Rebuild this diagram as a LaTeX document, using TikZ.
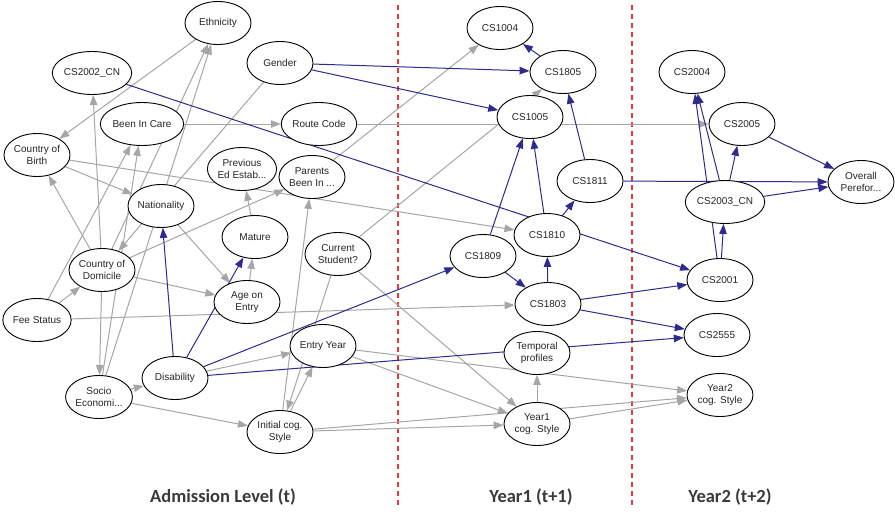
\documentclass[tikz,border=0pt]{standalone}
\usepackage{fontspec}
\setmainfont{Liberation Sans}
\newfontfamily\labfont{Carlito}
\usetikzlibrary{arrows.meta,shapes.geometric,backgrounds}
\definecolor{edgegray}{HTML}{A6A6A6}
\definecolor{edgeblue}{HTML}{2E2A8E}
\definecolor{dashred}{HTML}{E8393A}
\definecolor{labgray}{HTML}{3A3A3A}
\begin{document}
\begin{tikzpicture}[x=1pt,y=-1pt,
  nd/.style={ellipse,draw=black,fill=white,line width=0.9pt,minimum width=66pt,minimum height=43pt,inner sep=0pt,align=center,font=\fontsize{10}{12.5}\selectfont,text=black!85},
  ge/.style={draw=edgegray,line width=1pt,-{Triangle[length=10pt,width=7.5pt]},fill=none},
  be/.style={draw=edgeblue,line width=1pt,-{Triangle[length=10pt,width=7.5pt]},fill=none},
  sep/.style={draw=dashred,line width=1.1pt,dash pattern=on 5pt off 4pt},
  lev/.style={font=\labfont\bfseries\fontsize{18.5}{22}\selectfont,text=labgray}]
\useasboundingbox (0,0) rectangle (895,512);

% Admission level
\node[nd] (eth) at (218,23) {Ethnicity};
\node[nd] (cs2002) at (92,73) {CS2002\_CN};
\node[nd] (gender) at (280,63) {Gender};
\node[nd] (bic) at (142,124) {Been In Care};
\node[nd] (route) at (319,124) {Route Code};
\node[nd] (cob) at (37,155) {Country of\\Birth};
\node[nd] (prev) at (242,169) {Previous\\Ed Estab...};
\node[nd] (parents) at (312,177) {Parents\\Been In ...};
\node[nd] (nat) at (161,206) {Nationality};
\node[nd] (mature) at (255,237) {Mature};
\node[nd] (curr) at (338,254) {Current\\Student?};
\node[nd] (cod) at (102,270) {Country of\\Domicile};
\node[nd] (age) at (247,302) {Age on\\Entry};
\node[nd] (fee) at (37,320) {Fee Status};
\node[nd] (entry) at (323,346) {Entry Year};
\node[nd] (dis) at (175,378) {Disability};
\node[nd] (socio) at (99,397) {Socio\\Economi...};
\node[nd] (init) at (280,432) {Initial cog.\\Style};
% Year 1
\node[nd] (cs1004) at (500,28) {CS1004};
\node[nd] (cs1805) at (563,72) {CS1805};
\node[nd] (cs1005) at (530,117) {CS1005};
\node[nd] (cs1811) at (590,181) {CS1811};
\node[nd] (cs1810) at (547,235) {CS1810};
\node[nd] (cs1809) at (483,256) {CS1809};
\node[nd] (cs1803) at (548,304) {CS1803};
\node[nd] (temp) at (537,353) {Temporal\\profiles};
\node[nd] (y1) at (537,424) {Year1\\cog. Style};
% Year 2
\node[nd] (cs2004) at (692,72) {CS2004};
\node[nd] (cs2005) at (742,124) {CS2005};
\node[nd] (overall) at (861,182) {Overall\\Perefor...};
\node[nd] (cs2003) at (725,202) {CS2003\_CN};
\node[nd] (cs2001) at (720,280) {CS2001};
\node[nd] (cs2555) at (717,335) {CS2555};
\node[nd] (y2) at (720,395) {Year2\\cog. Style};

% level labels
\node[lev] (l0) at (223,497) {Admission Level (t)};
\node[lev] (l1) at (531,497) {Year1 (t+1)};
\node[lev] (l2) at (730,497) {Year2 (t+2)};

\begin{scope}[on background layer]
\coordinate (s1a) at (398,5); \coordinate (s1b) at (398,507);
\coordinate (s2a) at (632,5); \coordinate (s2b) at (632,507);
\draw[sep] (s1a) -- (s1b);
\draw[sep] (s2a) -- (s2b);
% gray edges
\draw[ge] (eth) -- (cob);
\draw[ge] (cod) -- (eth);
\draw[ge] (socio) -- (eth);
\draw[ge] (fee) -- (bic);
\draw[ge] (socio) -- (bic);
\draw[ge] (bic) -- (route);
\draw[ge] (cod) -- (cs2002);
\draw[ge] (cod) -- (cob);
\draw[ge] (cob) -- (nat);
\draw[ge] (cob) -- (cs1810);
\draw[ge] (gender) -- (cod);
\draw[ge] (fee) -- (cod);
\draw[ge] (cod) -- (socio);
\draw[ge] (cod) -- (age);
\draw[ge] (cod) -- (parents);
\draw[ge] (nat) -- (age);
\draw[ge] (age) -- (mature);
\draw[ge] (mature) -- (prev);
\draw[ge] (socio) -- (dis);
\draw[ge] (socio) -- (init);
\draw[ge] (dis) -- (entry);
\draw[ge] (init) -- (entry);
\draw[ge] (init) -- (parents);
\draw[ge] (curr) -- (init);
\draw[ge] (curr) -- (cs1805);
\draw[ge] (parents) -- (cs1004);
\draw[ge] (route) -- (cs2005);
\draw[ge] (fee) -- (cs1803);
\draw[ge] (curr) -- (y1);
\draw[ge] (entry) -- (y1);
\draw[ge] (entry) -- (y2);
\draw[ge] (init) -- (y1);
\draw[ge] (init) -- (y2);
\draw[ge] (y1) -- (y2);
\draw[ge] (y1) -- (temp);
% blue edges
\draw[be] (dis) -- (nat);
\draw[be] (dis) -- (mature);
\draw[be] (dis) -- (cs1809);
\draw[be] (dis) -- (cs2555);
\draw[be] (cs2002) -- (cs2001);
\draw[be] (gender) -- (cs1805);
\draw[be] (gender) -- (cs1005);
\draw[be] (cs1805) -- (cs1004);
\draw[be] (cs1811) -- (cs1805);
\draw[be] (cs1809) -- (cs1005);
\draw[be] (cs1810) -- (cs1005);
\draw[be] (cs1810) -- (cs1811);
\draw[be] (cs1803) -- (cs1810);
\draw[be] (cs1809) -- (cs1803);
\draw[be] (cs1803) -- (cs2001);
\draw[be] (cs1803) -- (cs2555);
\draw[be] (cs1811) -- (overall);
\draw[be] (cs2003) -- (overall);
\draw[be] (cs2005) -- (overall);
\draw[be] (cs2003) -- (cs2005);
\draw[be] (cs2003) -- (cs2004);
\draw[be] (cs2001) -- (cs2004);
\draw[be] (cs2001) -- (cs2003);
\end{scope}
\end{tikzpicture}
\end{document}
